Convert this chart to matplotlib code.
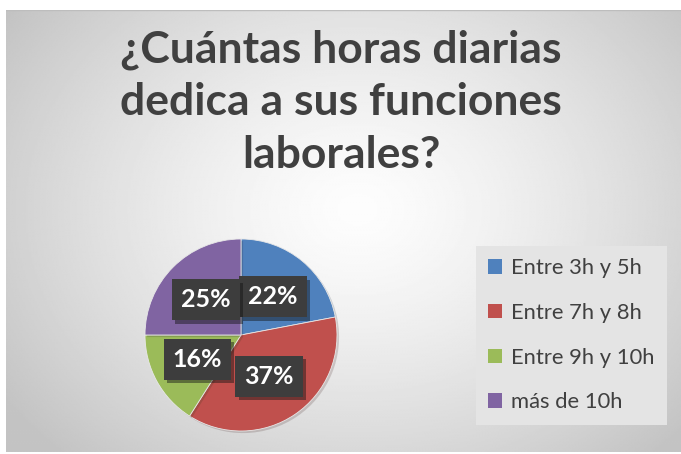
import numpy as np
import matplotlib
matplotlib.use("Agg")
import matplotlib.pyplot as plt
from matplotlib.patches import Patch
import matplotlib.patheffects as pe

# Survey answers: daily hours spent on job duties
categories = ["Entre 3h y 5h", "Entre 7h y 8h", "Entre 9h y 10h", "más de 10h"]
shares = [22, 37, 16, 25]
colors = ["#4F81BD", "#C0504D", "#9BBB59", "#8064A2"]
title_lines = ["¿Cuántas horas diarias", "dedica a sus funciones", "laborales?"]

W, H, DPI = 681, 454, 100
fig = plt.figure(figsize=(W / DPI, H / DPI), dpi=DPI)
fig.patch.set_facecolor("white")

# Chart area with a soft radial gradient background
bg = fig.add_axes([6 / W, 2 / H, (W - 6) / W, (H - 12) / H])
bg.set_axis_off()
ny, nx = 300, 450
yy, xx = np.mgrid[0:ny, 0:nx]
cx, cy = nx * 0.52, ny * 0.45
d = np.sqrt(((xx - cx) / (nx * 0.62)) ** 2 + ((yy - cy) / (ny * 0.75)) ** 2)
val = np.clip(253 - 56 * d ** 1.35, 196, 253) / 255.0
bg.imshow(val, cmap="gray", vmin=0, vmax=1, aspect="auto",
          extent=[0, 1, 0, 1], interpolation="bilinear")
bg.set_xlim(0, 1)
bg.set_ylim(0, 1)
bg.plot([0, 1], [1, 1], color="#bdbdbd", lw=1, transform=bg.transAxes)

# Title, one baseline per line
for line, base in zip(title_lines, [62, 115, 168]):
    fig.text(341 / W, 1 - base / H, line, ha="center", va="baseline",
             fontsize=32, fontweight="bold", family="Lato", color="#404040")

# Pie
cxp, cyp, r = 241, 335, 96
ax = fig.add_axes([(cxp - r) / W, (H - cyp - r) / H, 2 * r / W, 2 * r / H])
wedges, texts = ax.pie(
    shares, colors=colors, startangle=90, counterclock=False, radius=1,
    labels=[f"{v}%" for v in shares], labeldistance=0.52,
    wedgeprops=dict(linewidth=0.6, edgecolor="#e8e8e8"),
)
for w in wedges:
    w.set_path_effects([pe.SimplePatchShadow(offset=(1.5, -1.5), alpha=0.18),
                        pe.Normal()])
for t in texts:
    t.set_ha("center")
    t.set_va("center")
    t.set_fontsize(18)
    t.set_fontweight("bold")
    t.set_family("Lato")
    t.set_color("white")
    t.set_bbox(dict(boxstyle="square,pad=0.36", facecolor="#3d3d3d",
                    edgecolor="none"))
    t.get_bbox_patch().set_path_effects(
        [pe.SimplePatchShadow(offset=(2.5, -2.5), alpha=0.45), pe.Normal()])
ax.set_xlim(-1, 1)
ax.set_ylim(-1, 1)
ax.set_aspect("equal")
ax.set_axis_off()

# Legend
handles = [Patch(facecolor=c, edgecolor="none") for c in colors]
leg = fig.legend(handles, categories, loc="upper left",
                 bbox_to_anchor=(476 / W, 1 - 246 / H),
                 frameon=True, fancybox=False, facecolor="#e4e4e4",
                 edgecolor="none", framealpha=1,
                 prop=dict(family="Lato", size=15.8),
                 handlelength=0.65, handleheight=0.65, handletextpad=0.4,
                 labelspacing=1.13, borderpad=0.55, borderaxespad=0)
for txt in leg.get_texts():
    txt.set_color("#404040")

fig.savefig("out.png", dpi=DPI)
